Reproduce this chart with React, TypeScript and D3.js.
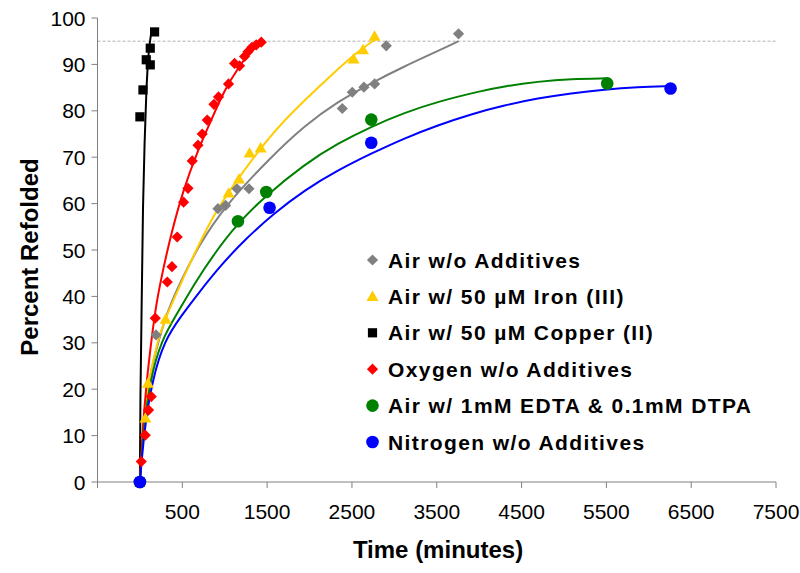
import React from 'react';
import * as d3 from 'd3';

// ---------- Data ----------
const xTickValues = [-500, 500, 1500, 2500, 3500, 4500, 5500, 6500, 7500];
const xTickLabels = ['', '500', '1500', '2500', '3500', '4500', '5500', '6500', '7500'];
const yTickValues = [0, 10, 20, 30, 40, 50, 60, 70, 80, 90, 100];
const referenceLevel = 95;

const seriesNames = [
  'Air w/o Additives',
  'Air w/ 50 \u00B5M Iron (III)',
  'Air w/ 50 \u00B5M Copper (II)',
  'Oxygen w/o Additives',
  'Air w/ 1mM EDTA & 0.1mM DTPA',
  'Nitrogen w/o Additives',
];

// Air w/o Additives (gray diamonds)
const grayTime = [0, 190, 920, 1010, 1144, 1286, 2386, 2504, 2641, 2767, 2905, 3757];
const grayPct = [0, 31.7, 58.9, 59.6, 63.2, 63.2, 80.5, 84.0, 85.1, 85.8, 94.0, 96.6];
const grayFitTime = [0, 35, 100, 232, 331, 488, 685, 1000, 1549, 1941, 2335, 2728, 3120, 3514, 3757];
const grayFitPct = [0, 11, 22, 31.3, 37.1, 43.5, 50.7, 59.5, 70.1, 76.8, 82.0, 86.0, 89.6, 92.9, 95.0];

// Air w/ 50 uM Iron (III) (yellow triangles)
const yellowTime = [0, 65, 95, 303, 1046, 1168, 1293, 1423, 2519, 2630, 2767];
const yellowPct = [0, 13.8, 21.3, 35.1, 62.3, 65.3, 70.9, 72.0, 91.2, 93.2, 96.1];
const yellowFitTime = [0, 35, 100, 213, 291, 449, 644, 841, 1018, 1549, 1941, 2335, 2531, 2767];
const yellowFitPct = [0, 11, 22, 30.6, 34.9, 41.4, 49.3, 56.5, 61.9, 75.2, 82.3, 89.0, 92.2, 95.3];

// Air w/ 50 uM Copper (II) (black squares)
const blackTime = [0, 0, 36, 75, 122, 122, 173];
const blackPct = [0, 78.7, 84.5, 91.0, 93.5, 89.9, 97.0];
const blackFitTime = [0, 4, 22, 36, 55, 75, 102, 134];
const blackFitPct = [0, 17.7, 39.2, 60.8, 73.1, 84.5, 93.1, 96.8];

// Oxygen w/o Additives (red diamonds)
const redTime = [0, 16, 63, 102, 134, 181, 323, 378, 440, 515, 567, 617, 685, 735, 794, 873, 927, 1045, 1116, 1175, 1234, 1274, 1321, 1372, 1431];
const redPct = [0, 4.4, 10.1, 15.5, 18.4, 35.3, 43.1, 46.4, 52.8, 60.3, 63.3, 69.2, 72.6, 75.0, 78.0, 81.4, 83.0, 85.8, 90.2, 89.7, 91.7, 92.7, 93.7, 94.2, 94.8];
const redFitTime = [0, 30, 75, 140, 193, 272, 370, 510, 685, 841, 998, 1156, 1313, 1450];
const redFitPct = [0, 11, 21, 31.3, 38.5, 45.7, 53.6, 62.9, 71.6, 78.0, 84.5, 89.2, 93.1, 94.9];

// Air w/ 1mM EDTA & 0.1mM DTPA (green circles)
const greenTime = [0, 1156, 1490, 2728, 5510];
const greenPct = [0, 56.2, 62.5, 78.1, 85.9];
const greenFitTime = [0, 40, 120, 252, 449, 644, 880, 1156, 1470, 1941, 2335, 2728, 3120, 3514, 4025, 4299, 4693, 5086, 5498];
const greenFitPct = [0, 11, 22, 30.6, 36.6, 42.8, 49.3, 55.8, 61.5, 68.5, 73.0, 76.6, 79.6, 82.0, 84.3, 85.3, 86.3, 86.9, 87.0];

// Nitrogen w/o Additives (blue circles)
const blueTime = [0, 1529, 2728, 6257];
const bluePct = [0, 59.1, 73.1, 84.8];
const blueFitTime = [0, 50, 145, 291, 488, 685, 959, 1234, 1588, 1941, 2335, 2728, 3120, 3514, 3907, 4299, 4693, 5086, 5478, 5872, 6245];
const blueFitPct = [0, 11, 22, 30.6, 35.8, 40.6, 46.8, 52.2, 58.0, 62.9, 67.2, 70.8, 74.1, 76.9, 79.3, 81.2, 82.7, 83.8, 84.6, 85.1, 85.3];

// ---------- Styling ----------
type Marker = 'diamond' | 'triangle' | 'square' | 'circle';
const series = [
  { name: seriesNames[0], color: '#808080', marker: 'diamond' as Marker, t: grayTime, v: grayPct, ft: grayFitTime, fv: grayFitPct },
  { name: seriesNames[1], color: '#FFCC00', marker: 'triangle' as Marker, t: yellowTime, v: yellowPct, ft: yellowFitTime, fv: yellowFitPct },
  { name: seriesNames[2], color: '#000000', marker: 'square' as Marker, t: blackTime, v: blackPct, ft: blackFitTime, fv: blackFitPct },
  { name: seriesNames[3], color: '#FF0000', marker: 'diamond' as Marker, t: redTime, v: redPct, ft: redFitTime, fv: redFitPct },
  { name: seriesNames[4], color: '#008000', marker: 'circle' as Marker, t: greenTime, v: greenPct, ft: greenFitTime, fv: greenFitPct },
  { name: seriesNames[5], color: '#0000FF', marker: 'circle' as Marker, t: blueTime, v: bluePct, ft: blueFitTime, fv: blueFitPct },
];

const W = 800;
const H = 573;
const FONT = '"Liberation Sans", Arial, sans-serif';

function markerPath(m: Marker): string {
  switch (m) {
    case 'diamond':
      return 'M0,-5.6L5.6,0L0,5.6L-5.6,0Z';
    case 'triangle':
      return 'M0,-5.8L6,4.6L-6,4.6Z';
    case 'square':
      return 'M-4.6,-4.6H4.6V4.6H-4.6Z';
    default:
      return d3.symbol(d3.symbolCircle, Math.PI * 6.3 * 6.3)() || '';
  }
}

export default function App() {
  const x = d3.scaleLinear().domain([-500, 7500]).range([97.5, 776]);
  const y = d3.scaleLinear().domain([0, 100]).range([482, 18]);

  const line = d3
    .line<[number, number]>()
    .x((d) => x(d[0]))
    .y((d) => y(d[1]))
    .curve(d3.curveBasis);

  const axisColor = '#808080';
  const legendX = 372.5;
  const legendY0 = 260;
  const legendStep = 36.4;

  return (
    <svg
      width={W}
      height={H}
      viewBox={`0 0 ${W} ${H}`}
      style={{ position: 'absolute', left: 0, top: 0, background: '#fff' }}
      fontFamily={FONT}
    >
      <rect x={0} y={0} width={W} height={H} fill="#fff" />

      {/* reference dashed line */}
      <line
        x1={x(-500)}
        x2={x(7500)}
        y1={y(referenceLevel)}
        y2={y(referenceLevel)}
        stroke="#b0b0b0"
        strokeWidth={1}
        strokeDasharray="3,2"
      />

      {/* y axis */}
      <line x1={x(-500)} x2={x(-500)} y1={y(0)} y2={y(100)} stroke={axisColor} strokeWidth={1} />
      {yTickValues.map((v) => (
        <g key={'yt' + v}>
          <line x1={x(-500) - 6} x2={x(-500)} y1={y(v)} y2={y(v)} stroke={axisColor} strokeWidth={1} />
          <text x={x(-500) - 12} y={y(v) + 7.5} textAnchor="end" fontSize={21} fill="#000">
            {v}
          </text>
        </g>
      ))}

      {/* x axis */}
      <line x1={x(-500)} x2={x(7500)} y1={y(0)} y2={y(0)} stroke={axisColor} strokeWidth={1} />
      {xTickValues.map((t, i) => (
        <g key={'xt' + t}>
          <line x1={x(t)} x2={x(t)} y1={y(0)} y2={y(0) + 6} stroke={axisColor} strokeWidth={1} />
          <text x={x(t)} y={519} textAnchor="middle" fontSize={21} fill="#000">
            {xTickLabels[i]}
          </text>
        </g>
      ))}

      {/* axis titles */}
      <text x={438} y={558} textAnchor="middle" fontSize={24} fontWeight="bold" fill="#000">
        Time (minutes)
      </text>
      <text
        transform="translate(38,257) rotate(-90)"
        textAnchor="middle"
        fontSize={24}
        fontWeight="bold"
        fill="#000"
      >
        Percent Refolded
      </text>

      {/* fitted curves */}
      {series.map((s) => (
        <path
          key={'fit' + s.name}
          d={line(s.ft.map((t, i) => [t, s.fv[i]] as [number, number])) || ''}
          fill="none"
          stroke={s.color}
          strokeWidth={2}
        />
      ))}

      {/* markers */}
      {series.map((s) => (
        <g key={'pts' + s.name} fill={s.color}>
          {s.t.map((t, i) => (
            <path key={i} d={markerPath(s.marker)} transform={`translate(${x(t)},${y(s.v[i])})`} />
          ))}
        </g>
      ))}

      {/* legend */}
      {series.map((s, i) => {
        const cy = legendY0 + i * legendStep;
        return (
          <g key={'lg' + s.name}>
            <path d={markerPath(s.marker)} transform={`translate(${legendX},${cy})`} fill={s.color} />
            <text
              x={388}
              y={cy + 7.5}
              fontSize={21}
              fontWeight="bold"
              letterSpacing={1.4}
              fill="#000"
            >
              {s.name}
            </text>
          </g>
        );
      })}
    </svg>
  );
}
